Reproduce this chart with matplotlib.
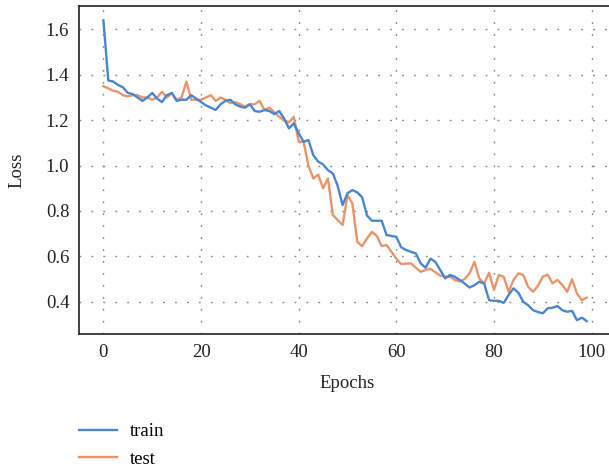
import matplotlib
matplotlib.use("Agg")
import matplotlib.pyplot as plt
import numpy as np

plt.rcParams['font.family'] = ['Liberation Serif', 'DejaVu Serif']

epochs = np.arange(100)

train = [1.64, 1.375, 1.37, 1.355, 1.345, 1.32, 1.315, 1.30, 1.285, 1.30,
         1.32, 1.295, 1.28, 1.31, 1.32, 1.285, 1.29, 1.29, 1.31, 1.295,
         1.28, 1.265, 1.255, 1.245, 1.27, 1.285, 1.29, 1.27, 1.26, 1.255,
         1.27, 1.24, 1.237, 1.245, 1.24, 1.227, 1.24, 1.208, 1.164, 1.186,
         1.142, 1.105, 1.112, 1.046, 1.017, 1.005, 0.98, 0.965, 0.91, 0.826,
         0.878, 0.892, 0.882, 0.86, 0.78, 0.757, 0.757, 0.757, 0.694, 0.69,
         0.686, 0.64, 0.628, 0.62, 0.613, 0.569, 0.55, 0.59, 0.576, 0.54,
         0.503, 0.518, 0.51, 0.496, 0.48, 0.463, 0.473, 0.488, 0.48, 0.407,
         0.404, 0.404, 0.395, 0.43, 0.459, 0.44, 0.40, 0.385, 0.363, 0.355,
         0.349, 0.371, 0.374, 0.381, 0.363, 0.356, 0.36, 0.319, 0.33, 0.315]

test = [1.35, 1.34, 1.33, 1.325, 1.31, 1.305, 1.31, 1.31, 1.30, 1.30,
        1.29, 1.30, 1.325, 1.30, 1.32, 1.29, 1.30, 1.37, 1.29, 1.29,
        1.29, 1.30, 1.31, 1.285, 1.30, 1.29, 1.275, 1.28, 1.27, 1.26,
        1.27, 1.27, 1.285, 1.245, 1.255, 1.235, 1.215, 1.20, 1.19, 1.215,
        1.105, 1.105, 1.0, 0.943, 0.96, 0.90, 0.943, 0.782, 0.76, 0.738,
        0.87, 0.833, 0.664, 0.645, 0.679, 0.708, 0.69, 0.645, 0.65, 0.62,
        0.59, 0.566, 0.568, 0.569, 0.55, 0.532, 0.54, 0.545, 0.53, 0.515,
        0.51, 0.51, 0.496, 0.49, 0.50, 0.525, 0.576, 0.503, 0.48, 0.528,
        0.452, 0.518, 0.51, 0.444, 0.496, 0.525, 0.518, 0.466, 0.444, 0.47,
        0.51, 0.52, 0.481, 0.496, 0.474, 0.444, 0.499, 0.437, 0.407, 0.418]

x_ticks = [0, 20, 40, 60, 80, 100]
y_ticks = [0.4, 0.6, 0.8, 1.0, 1.2, 1.4, 1.6]

fig = plt.figure(figsize=(6.09, 4.70), dpi=100)
ax = fig.add_axes([79/609, 1 - 334/470, 537/609, 328/470])

ax.plot(epochs, train, color='#4a86cc', lw=1.7, label='train', zorder=3)
ax.plot(epochs, test, color='#e8956b', lw=1.7, label='test', zorder=2)

ax.set_xlim(-5, 105)
ax.set_ylim(0.258, 1.703)
ax.set_xticks(x_ticks)
ax.set_yticks(y_ticks)
ax.set_yticklabels([f'{v:.1f}' for v in y_ticks])
ax.tick_params(length=0, labelsize=13.5, colors='#222222')
ax.tick_params(axis='y', pad=7)
ax.tick_params(axis='x', pad=7)

ax.grid(True, color='#888888', lw=1.0, linestyle=(0, (1.3, 7.3)))
ax.spines['right'].set_visible(False)
for s in ['left', 'bottom', 'top']:
    ax.spines[s].set_linewidth(1.2)
    ax.spines[s].set_color('#222222')

ax.set_xlabel('Epochs', fontsize=13.5, color='#222222')
ax.set_ylabel('Loss', fontsize=13.5, color='#222222')
ax.xaxis.set_label_coords(0.5, -0.124)
ax.yaxis.set_label_coords(-0.1, 0.5)

fig.legend(loc='upper left', bbox_to_anchor=(79/609, 1 - 423/470),
           frameon=False, fontsize=13.5, handlelength=2.0,
           handletextpad=0.7, labelspacing=0.55, borderpad=0,
           borderaxespad=0)

fig.savefig('out.png', dpi=100)
